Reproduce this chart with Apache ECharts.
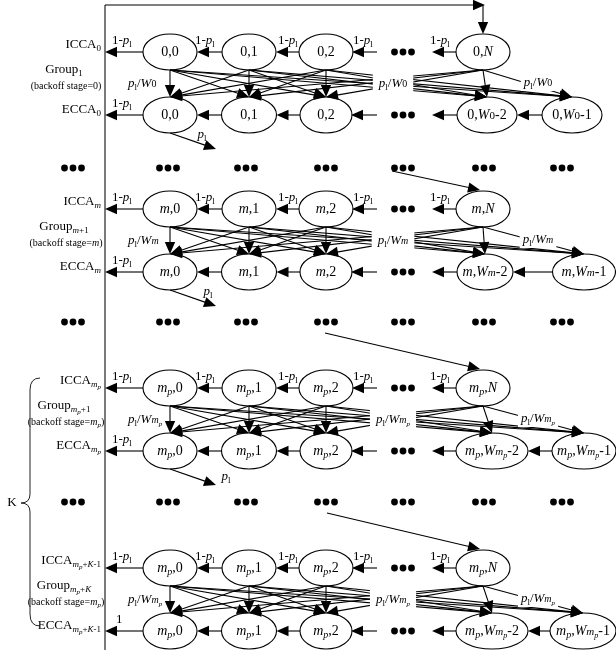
<!DOCTYPE html>
<html>
<head>
<meta charset="utf-8">
<script src="https://cdn.jsdelivr.net/npm/echarts@6/dist/echarts.min.js"></script>
<style>
html, body { margin: 0; padding: 0; background: #fff; }
#chart { width: 616px; height: 653px; }
</style>
</head>
<body>
<div id="chart"></div>
<script>
// ---- Captions of the four backoff groups (rich-text markup) ----
const iccaLabels  = ['ICCA{s|0}', 'ICCA{si|m}', 'ICCA{si|m}{ss|p}', 'ICCA{si|m}{ss|p}{s|+}{si|K}{s|-1}'];
const groupLabels = ['Group{s|1}', 'Group{si|m}{s|+1}', 'Group{si|m}{ss|p}{s|+1}', 'Group{si|m}{ss|p}{s|+}{si|K}'];
const stageLabels = ['(backoff stage=0)', '(backoff stage={i|m})', '(backoff stage={i|m}{si|p})', '(backoff stage={i|m}{si|p})'];
const eccaLabels  = ['ECCA{s|0}', 'ECCA{si|m}', 'ECCA{si|m}{ss|p}', 'ECCA{si|m}{ss|p}{s|+}{si|K}{s|-1}'];

// ---- State names: backoff stage, window size, counters ----
const stageNames     = ['0', '{i|m}', '{i|m}{si|p}', '{i|m}{si|p}'];
const windowNames    = ['{i|W}{w|0}', '{i|W}{wi|m}', '{i|W}{wi|m}{wp|p}', '{i|W}{wi|m}{wp|p}'];
const topCounters    = ['0', '1', '2', '{i|N}'];
const bottomCounters = ['0', '1', '2', '#-2', '#-1'];   // '#' = window name of the group

// ---- Transition labels ----
const idleLabel    = '1-{i|p}{s|l}';
const lastEccaExit = '1';
const busyLabel    = '{i|p}{s|l}';
const spreadLabels = windowNames.map(w => '{i|p}{s|l}/' + w);
const sideLetter   = 'K';

// ---- Drawing layout (diagram units = canvas pixels through the axes) ----
const LAYOUT = {
  wallX: 105, loopY: 5, wallEnd: 650,
  topCols: [170, 249, 326, 483],
  rowDotsX: 403,
  botCols: [[170, 249, 326, 487, 572], [170, 249, 326, 485, 584], [170, 249, 326, 492, 584], [170, 249, 326, 492, 583]],
  botRx:   [[27, 27.5, 26, 30, 30], [27, 27.5, 26, 28, 31.5], [27, 27.5, 26, 36, 32], [27, 27.5, 26, 36, 33]],
  rows: [[52, 115], [209, 272], [388, 451], [568, 631]],
  rx: 27, ry: 18,
  gapY: [168, 322, 502],
  gapCols: [73, 168, 246, 326, 403, 484, 562],
  gapLineFrom: [[392, 171], [325, 333], [327, 513]],
  gapLineTo: 480,
  idleLabelX: [112, 195, 278, 353, 430],
  busyTip: [216, 34],
  busyLabel: [[202, 20], [208, 20], [226, 26]],
  spreadX: [128, 393, 538],
  captionX: 101, groupX: 64, stageX: 66
};

const F = '"Liberation Serif", "Times New Roman", serif';

function rich(size) {
  const sub = Math.round(size * 0.7), sub2 = Math.round(size * 0.55), red = Math.round(size * 0.8);
  return {
    i:  { fontFamily: F, fontSize: size, fontStyle: 'italic', verticalAlign: 'middle' },
    s:  { fontFamily: F, fontSize: sub, lineHeight: sub, padding: [Math.round(size * 0.62), 0, 0, 0], verticalAlign: 'middle' },
    si: { fontFamily: F, fontSize: sub, lineHeight: sub, fontStyle: 'italic', padding: [Math.round(size * 0.62), 0, 0, 0], verticalAlign: 'middle' },
    ss: { fontFamily: F, fontSize: sub2, lineHeight: sub2, fontStyle: 'italic', padding: [Math.round(size * 1.0), 0, 0, 0], verticalAlign: 'middle' },
    w:  { fontFamily: F, fontSize: red, lineHeight: red, padding: [2, 0, 0, 0], verticalAlign: 'middle' },
    wi: { fontFamily: F, fontSize: red, lineHeight: red, fontStyle: 'italic', padding: [2, 0, 0, 0], verticalAlign: 'middle' },
    wp: { fontFamily: F, fontSize: sub2, lineHeight: sub2, fontStyle: 'italic', padding: [Math.round(size * 0.72), 0, 0, 0], verticalAlign: 'middle' }
  };
}

function text(api, x, y, str, size, align, extra) {
  const p = api.coord([x, y]);
  return {
    type: 'text', x: p[0], y: p[1],
    style: Object.assign({
      text: str, rich: rich(size), fontFamily: F, fontSize: size, fill: '#000',
      align: align || 'center', verticalAlign: 'middle'
    }, extra || {})
  };
}

function head(tip, ux, uy) {
  const hl = 12, hw = 5.2;
  const bx = tip[0] - ux * hl, by = tip[1] - uy * hl;
  return {
    type: 'polygon',
    shape: { points: [[tip[0], tip[1]], [bx - uy * hw, by + ux * hw], [bx + uy * hw, by - ux * hw]] },
    style: { fill: '#000' }
  };
}

function arrow(api, x1, y1, x2, y2, out) {
  const a = api.coord([x1, y1]), b = api.coord([x2, y2]);
  const dx = b[0] - a[0], dy = b[1] - a[1], len = Math.hypot(dx, dy);
  const ux = dx / len, uy = dy / len;
  out.push({ type: 'line', shape: { x1: a[0], y1: a[1], x2: b[0] - ux * 8, y2: b[1] - uy * 8 }, style: { stroke: '#000', lineWidth: 1.1 } });
  out.push(head(b, ux, uy));
}

function ellipse(api, cx, cy, rx, ry) {
  const c = api.coord([cx, cy]);
  const s = api.size([rx, ry]);
  return { type: 'ellipse', shape: { cx: c[0], cy: c[1], rx: s[0], ry: s[1] }, style: { fill: '#fff', stroke: '#000', lineWidth: 1.1 } };
}

function dots(api, cx, cy, out) {
  [-8.5, 0, 8.5].forEach(d => {
    const c = api.coord([cx + d, cy]);
    out.push({ type: 'circle', shape: { cx: c[0], cy: c[1], r: 3.4 }, style: { fill: '#000' } });
  });
}

// One backoff group: ICCA row, ECCA row and all transitions between them
function renderGroup(params, api) {
  const g = params.dataIndex;
  const L = LAYOUT;
  const [yT, yB] = L.rows[g];
  const botX = L.botCols[g], botR = L.botRx[g];
  const els = [];

  // ellipses
  L.topCols.forEach((x, i) => {
    els.push(ellipse(api, x, yT, L.rx, L.ry));
    els.push(text(api, x, yT, stageNames[g] + ',' + topCounters[i], 14));
  });
  botX.forEach((x, j) => {
    els.push(ellipse(api, x, yB, botR[j], L.ry));
    els.push(text(api, x, yB, stageNames[g] + ',' + bottomCounters[j].replace('#', windowNames[g]), 14));
  });

  // counter reset: every ICCA state to every ECCA state
  L.topCols.forEach(xt => {
    botX.forEach(xb => arrow(api, xt, yT + L.ry, xb, yB - L.ry, els));
  });

  // row dots
  dots(api, L.rowDotsX, yT, els);
  dots(api, L.rowDotsX, yB, els);

  // ICCA row: counting down towards the wall
  const tops = L.topCols;
  const topLinks = [
    [tops[0] - L.rx, L.wallX],
    [tops[1] - L.rx, tops[0] + L.rx],
    [tops[2] - L.rx, tops[1] + L.rx],
    [L.rowDotsX - 26, tops[2] + L.rx - 1],
    [tops[3] - L.rx, L.rowDotsX + 29]
  ];
  topLinks.forEach((lk, k) => {
    arrow(api, lk[0], yT, lk[1], yT, els);
    els.push(text(api, L.idleLabelX[k], yT - 11, idleLabel, 13, 'left'));
  });

  // ECCA row
  const botLinks = [
    [botX[0] - botR[0], L.wallX],
    [botX[1] - botR[1], botX[0] + botR[0]],
    [botX[2] - botR[2], botX[1] + botR[1]],
    [L.rowDotsX - 26, botX[2] + botR[2] - 1],
    [botX[3] - botR[3], L.rowDotsX + 29],
    [botX[4] - botR[4], botX[3] + botR[3]]
  ];
  botLinks.forEach(lk => arrow(api, lk[0], yB, lk[1], yB, els));
  els.push(text(api, L.idleLabelX[0] + (g === 3 ? 4 : 0), yB - 11, g === 3 ? lastEccaExit : idleLabel, 13, 'left'));

  // collision: leave to the next backoff stage
  if (g < 3) {
    arrow(api, botX[0], yB + L.ry, L.busyTip[0], yB + L.busyTip[1], els);
    els.push(text(api, L.busyLabel[g][0], yB + L.busyLabel[g][1], busyLabel, 13, 'center'));
  }

  // spread labels between the two rows
  const ym = (yT + yB) / 2;
  els.push(text(api, L.spreadX[0], ym, spreadLabels[g], 13, 'left'));
  els.push(text(api, L.spreadX[1], ym, spreadLabels[g], 13, 'center', { backgroundColor: '#fff', padding: [5, 6] }));
  els.push(text(api, L.spreadX[2], ym - 1, spreadLabels[g], 13, 'center', { backgroundColor: '#fff', padding: [2, 3] }));

  // side captions
  els.push(text(api, L.captionX, yT - 7, iccaLabels[g], 13, 'right'));
  els.push(text(api, L.groupX, yT + 18, groupLabels[g], 13, 'center'));
  els.push(text(api, L.stageX, yT + 34, stageLabels[g], 10, 'center'));
  els.push(text(api, L.captionX, yB - 5, eccaLabels[g], 13, 'right'));

  return { type: 'group', children: els };
}

// Wall, feedback loop, gaps between groups and the K brace
function renderFrame(params, api) {
  const L = LAYOUT;
  const els = [];
  const w0 = api.coord([L.wallX, L.loopY]), w1 = api.coord([L.wallX, L.wallEnd]);
  els.push({ type: 'line', shape: { x1: w0[0], y1: w0[1], x2: w1[0], y2: w1[1] }, style: { stroke: '#222', lineWidth: 1.2 } });

  // success loop back to the top counter state
  const nX = L.topCols[3];
  const c = api.coord([nX, L.loopY]);
  els.push({ type: 'line', shape: { x1: w0[0], y1: w0[1], x2: c[0], y2: c[1] }, style: { stroke: '#000', lineWidth: 1.2 } });
  els.push(head(api.coord([nX + 2, L.loopY]), 1, 0));
  arrow(api, nX, L.loopY, nX, L.rows[0][0] - L.ry, els);

  // gaps between groups
  L.gapY.forEach((y, k) => {
    L.gapCols.forEach(x => dots(api, x, y, els));
    const from = L.gapLineFrom[k];
    arrow(api, from[0], from[1], L.gapLineTo, L.rows[k + 1][0] - L.ry - 1, els);
  });

  // brace spanning the last K groups
  const P = (x, y) => api.coord([x, y]);
  const segs = [
    { type: 'bezierCurve', a: P(40, 378), cp: P(30, 378), b: P(30, 390) },
    { type: 'line', a: P(30, 390), b: P(30, 494) },
    { type: 'bezierCurve', a: P(30, 494), cp: P(30, 503), b: P(21, 503) },
    { type: 'bezierCurve', a: P(21, 503), cp: P(30, 503), b: P(30, 512) },
    { type: 'line', a: P(30, 512), b: P(30, 614) },
    { type: 'bezierCurve', a: P(30, 614), cp: P(30, 626), b: P(40, 626) }
  ];
  segs.forEach(s => {
    if (s.type === 'line') {
      els.push({ type: 'line', shape: { x1: s.a[0], y1: s.a[1], x2: s.b[0], y2: s.b[1] }, style: { stroke: '#222', lineWidth: 1 } });
    } else {
      els.push({ type: 'bezierCurve', shape: { x1: s.a[0], y1: s.a[1], cpx1: s.cp[0], cpy1: s.cp[1], x2: s.b[0], y2: s.b[1] }, style: { stroke: '#222', lineWidth: 1, fill: null } });
    }
  });
  els.push(text(api, 12, 503, sideLetter, 13, 'center'));

  return { type: 'group', children: els };
}

const chart = echarts.init(document.getElementById('chart'), null, { renderer: 'canvas' });
chart.setOption({
  animation: false,
  backgroundColor: '#fff',
  grid: { left: 0, right: 0, top: 0, bottom: 0 },
  xAxis: { type: 'value', min: 0, max: 616, show: false },
  yAxis: { type: 'value', min: 0, max: 653, inverse: true, show: false },
  series: [
    { type: 'custom', coordinateSystem: 'cartesian2d', data: [[0, 0]], renderItem: renderFrame, silent: true },
    { type: 'custom', coordinateSystem: 'cartesian2d', data: iccaLabels.map((_, i) => [i, 0]), renderItem: renderGroup, silent: true }
  ]
});
</script>
</body>
</html>
